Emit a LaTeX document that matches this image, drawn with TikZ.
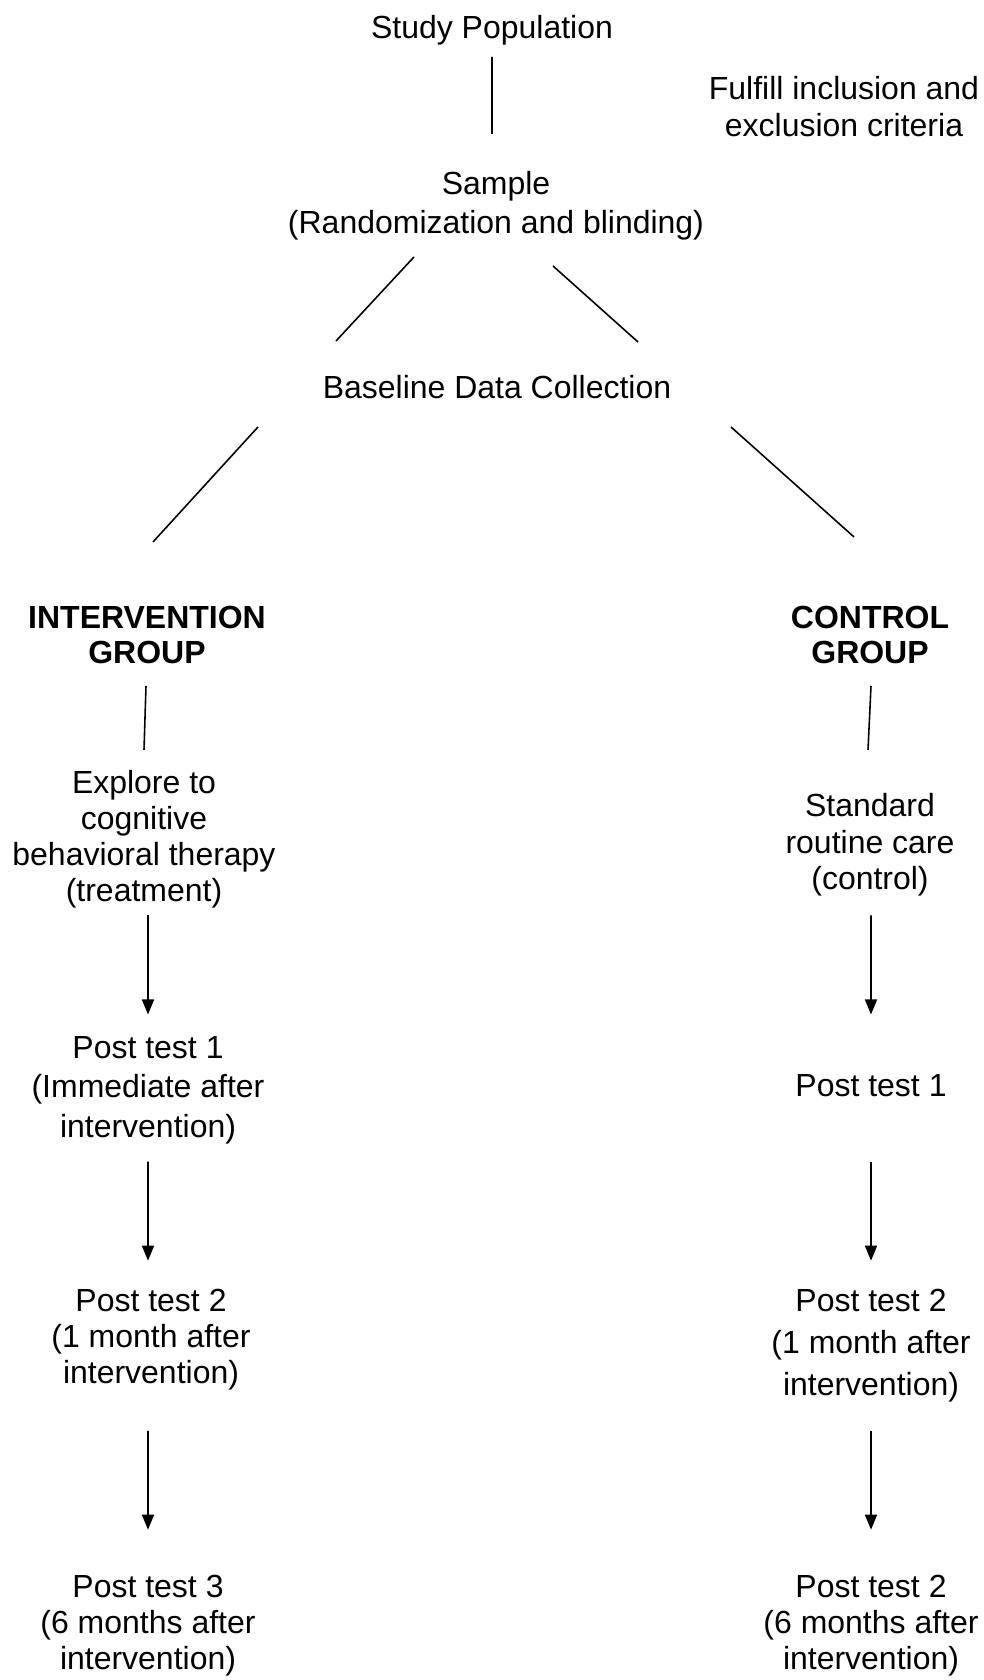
\documentclass[tikz,border=0pt]{standalone}
\usepackage{fontspec}
\setmainfont{Liberation Sans}
\usepackage{tikz}
\usetikzlibrary{arrows.meta}
\tikzstyle{tsText} = [
    text=black,
    font=\fontsize{9.1}{10.5}\selectfont,
    align=center,
    inner sep=0pt,
    outer sep=0pt
]
\tikzstyle{tsBold} = [
    tsText,
    font=\fontsize{9.1}{9.96}\selectfont\bfseries
]
\tikzstyle{tsLine} = [
    draw=black,
    line width=0.45pt
]
\tikzstyle{tsArrow} = [
    tsLine,
    -{Triangle[length=1.5mm, width=1.2mm]}
]
\tikzset{tsSkip/.style={font=\fontsize{9.1}{#1}\selectfont}}

\begin{document}
\begin{tikzpicture}

    \useasboundingbox (0,0) rectangle (9.83,16.8);

    % top part
    \node[tsText] (pop) at (4.92,16.498) {Study Population};
    \node[tsText] (crit) at (8.44,15.735) {Fulfill inclusion and\\exclusion criteria};
    \node[tsText, tsSkip=11.1pt] (sample) at (4.96,14.741) {Sample\\(Randomization and blinding)};
    \node[tsText] (base) at (4.97,12.93) {Baseline Data Collection};

    % groups
    \node[tsBold] (igrp) at (1.47,10.445) {INTERVENTION\\GROUP};
    \node[tsBold] (cgrp) at (8.70,10.445) {CONTROL\\GROUP};

    % intervention column
    \node[tsText, tsSkip=10.24pt] (treat) at (1.44,8.406) {Explore to\\cognitive\\behavioral therapy\\(treatment)};
    \node[tsText, tsSkip=11.2pt] (ipt1) at (1.48,5.897) {Post test 1\\(Immediate after\\intervention)};
    \node[tsText, tsSkip=10.24pt] (ipt2) at (1.51,3.402) {Post test 2\\(1 month after\\intervention)};
    \node[tsText, tsSkip=10.24pt] (ipt3) at (1.48,0.546) {Post test 3\\(6 months after\\intervention)};

    % control column
    \node[tsText, tsSkip=10.39pt] (ctrl) at (8.70,8.351) {Standard\\routine care\\(control)};
    \node[tsText] (cpt1) at (8.71,5.944) {Post test 1};
    \node[tsText, tsSkip=11.92pt] (cpt2) at (8.71,3.344) {Post test 2\\(1 month after\\intervention)};
    \node[tsText, tsSkip=10.24pt] (cpt3) at (8.71,0.546) {Post test 2\\(6 months after\\intervention)};

    % lines
    \draw[tsLine] ([shift={(0,-0.268)}]pop.center) -- ([shift={(-0.04,0.719)}]sample.center);
    \draw[tsLine] ([shift={(-0.82,-0.511)}]sample.center) -- ([shift={(-1.61,0.46)}]base.center);
    \draw[tsLine] ([shift={(0.57,-0.601)}]sample.center) -- ([shift={(1.41,0.45)}]base.center);
    \draw[tsLine] ([shift={(-2.39,-0.40)}]base.center) -- ([shift={(0.06,0.935)}]igrp.center);
    \draw[tsLine] ([shift={(2.34,-0.40)}]base.center) -- ([shift={(-0.16,0.985)}]cgrp.center);
    \draw[tsLine] ([shift={(-0.01,-0.505)}]igrp.center) -- ([shift={(0,0.894)}]treat.center);
    \draw[tsLine] ([shift={(0.01,-0.505)}]cgrp.center) -- ([shift={(-0.02,0.949)}]ctrl.center);

    % arrows
    \draw[tsArrow] ([shift={(0.04,-0.761)}]treat.center) -- ([shift={(0,0.758)}]ipt1.center);
    \draw[tsArrow] ([shift={(0,-0.714)}]ipt1.center) -- ([shift={(-0.03,0.791)}]ipt2.center);
    \draw[tsArrow] ([shift={(-0.03,-0.91)}]ipt2.center) -- ([shift={(0,0.957)}]ipt3.center);
    \draw[tsArrow] ([shift={(0.01,-0.706)}]ctrl.center) -- ([shift={(0,0.711)}]cpt1.center);
    \draw[tsArrow] ([shift={(0,-0.761)}]cpt1.center) -- ([shift={(0,0.849)}]cpt2.center);
    \draw[tsArrow] ([shift={(0,-0.852)}]cpt2.center) -- ([shift={(0,0.957)}]cpt3.center);

\end{tikzpicture}
\end{document}
